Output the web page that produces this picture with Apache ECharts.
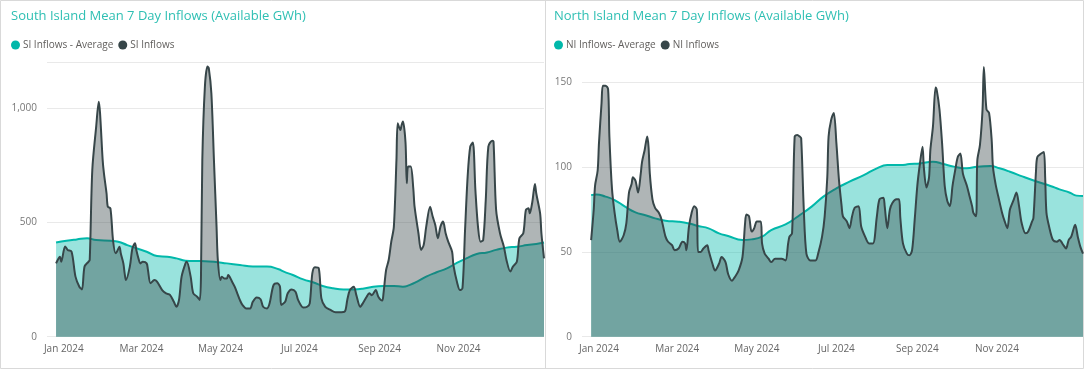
<!DOCTYPE html>
<html><head><meta charset="utf-8">
<script src="https://cdn.jsdelivr.net/npm/echarts@6/dist/echarts.min.js"></script>
<style>html,body{margin:0;padding:0;background:#fff}#c{width:1085px;height:370px}</style>
</head><body><div id="c"></div><script>
// x values are days since 1 Jan 2024
const tickDays = [0, 60, 121, 182, 244, 305];
const tickLabels = ['Jan 2024', 'Mar 2024', 'May 2024', 'Jul 2024', 'Sep 2024', 'Nov 2024'];

const siInflowDays = [-6,-4,-3,-2,1,3,6,9,12,14,16,19,20,22,25,27,28,30,31,33,34,36,38,40,41,43,44,46,47,48,51,53,55,56,58,59,61,64,65,67,70,72,76,79,82,85,87,89,91,94,95,98,100,103,105,106,107,109,111,112,114,116,118,119,121,122,124,126,127,130,132,134,136,138,141,144,146,149,152,154,157,159,162,165,167,168,171,173,176,179,181,185,188,190,192,194,197,199,202,206,210,213,217,219,221,224,226,229,231,234,236,238,241,243,246,247,249,251,253,255,257,258,260,261,262,264,265,266,268,270,271,274,276,278,280,283,285,287,289,291,293,295,297,300,301,304,306,308,310,312,314,316,318,320,322,324,326,328,331,332,334,337,340,342,345,347,350,352,355,357,359,360,362,364,365,368,369,371];
const siInflows = [321,343,350,328,395,380,372,263,219,207,307,328,336,730,920,1029,978,774,715,628,569,562,423,365,372,394,365,321,277,248,307,387,409,380,336,321,328,321,292,234,248,241,204,190,183,153,131,161,263,321,328,263,190,175,161,277,774,1095,1183,1176,1066,771,482,336,248,263,255,255,270,241,219,190,161,139,124,124,153,172,164,131,124,146,226,234,219,139,153,190,207,197,161,128,131,146,277,304,299,168,131,117,107,107,110,161,204,219,182,131,146,175,190,182,204,175,158,190,292,336,416,482,774,934,905,927,942,850,672,745,745,650,569,453,380,401,482,569,526,489,431,482,504,453,416,372,314,234,204,212,467,701,832,850,642,482,416,423,599,832,858,854,555,453,394,336,285,307,328,431,453,555,562,540,591,669,628,540,453,343];
const siAvgDays = [-6,2,10,18,25,36,42,49,56,64,72,80,87,94,105,116,126,136,146,157,166,170,177,185,193,200,208,216,224,231,239,247,255,262,267,273,280,288,296,303,311,319,327,334,342,350,358,365,371];
const siAvg = [412,420,426,431,423,420,416,401,387,372,353,350,343,333,331,328,321,314,307,307,295,285,270,251,237,222,212,207,207,210,219,222,222,219,226,241,263,282,299,321,343,362,369,380,390,394,401,406,412];

const niInflowDays = [-6,-4,-3,-1,0,2,3,5,7,8,10,12,14,16,19,21,23,25,26,28,30,32,33,35,37,38,39,41,43,46,48,51,53,56,58,61,64,66,67,69,71,73,75,76,78,80,83,84,87,89,92,94,97,99,102,104,107,110,112,113,115,117,119,121,124,125,127,130,132,135,138,140,143,145,146,148,150,152,154,155,157,159,162,166,168,171,173,175,176,178,180,182,184,186,187,190,192,194,196,199,201,204,207,210,213,215,218,219,221,223,225,228,230,231,233,236,238,240,242,244,246,248,249,251,253,254,256,258,259,261,263,265,267,269,271,273,275,277,279,282,284,286,287,289,290,292,294,295,297,299,301,302,304,306,309,311,313,315,318,320,322,324,327,329,332,333,335,336,339,341,342,343,345,348,351,353,356,358,360,362,365,367,369,371];
const niInflows = [57,75,89,98,114,138,148,148,146,118,87,73,63,56,60,67,85,90,94,92,85,96,103,110,118,112,96,81,76,73,69,59,56,54,51,52,56,55,51,65,73,77,75,50,50,52,54,51,43,39,43,47,44,37,33,35,39,47,67,72,71,62,64,68,68,55,49,46,44,46,46,46,45,55,59,61,118,119,118,117,75,49,45,45,49,59,71,94,118,128,132,114,92,77,71,68,64,71,76,77,65,59,55,55,71,81,82,77,64,75,79,81,81,70,55,49,48,51,69,89,102,112,100,88,94,110,124,147,145,134,114,89,80,77,89,98,106,108,96,89,83,77,73,71,104,113,134,159,134,132,116,100,90,83,73,68,64,75,81,85,77,67,61,62,68,70,98,106,108,109,94,73,65,57,56,57,54,52,57,59,66,59,53,49];
const niAvgDays = [-6,-2,5,12,20,28,35,43,51,61,69,76,84,92,99,110,117,125,132,143,153,163,172,182,192,203,213,221,231,238,246,256,264,272,282,290,300,307,315,325,336,346,353,361,366,371];
const niAvg = [83.5,83.9,82.6,80.6,76.7,73.3,71.8,69.8,68.4,67.8,66.8,65.3,63.9,60.9,59.4,57,57.4,59,62.9,66.2,71.2,76.7,82.6,87.5,91.4,95.3,99.3,101.2,101.2,101.8,102.2,103.2,101.8,100.3,99.3,100.3,100.6,99.3,97.3,94.4,91.4,88.9,86.9,84.9,83.2,83];

const zip = (xs, ys) => xs.map((x, i) => [x, ys[i]]);
const FONT = 'Open Sans';
const TEAL = '#01B8AA', DARK = '#374649';
const labelMap = {};
tickDays.forEach((d, i) => labelMap[d] = tickLabels[i]);

function xAxis(gi) {
  return {
    type: 'value', gridIndex: gi, min: -13, max: 371,
    axisLine: { show: false }, axisTick: { show: false }, splitLine: { show: false },
    axisLabel: {
      customValues: tickDays, formatter: v => labelMap[v] || '',
      color: '#666666', fontSize: 10, fontFamily: FONT, margin: 7
    }
  };
}
function yAxis(gi, max, interval, fmt) {
  return {
    type: 'value', gridIndex: gi, min: 0, max: max, interval: interval,
    axisLine: { show: false }, axisTick: { show: false },
    axisLabel: { color: '#777777', fontSize: 10, fontFamily: FONT, margin: 10, showMaxLabel: false, formatter: fmt },
    splitLine: { lineStyle: { color: ['#e9e9e9', '#e9e9e9', '#e9e9e9', '#e9e9e9', 'rgba(0,0,0,0)'], width: 1 } }
  };
}
function avgSeries(name, gi, data) {
  return {
    name, type: 'line', xAxisIndex: gi, yAxisIndex: gi, data, showSymbol: false, smooth: 0.5,
    color: TEAL, lineStyle: { color: TEAL, width: 2 },
    areaStyle: { color: TEAL, opacity: 0.4 }, z: 2
  };
}
function inflowSeries(name, gi, data) {
  return {
    name, type: 'line', xAxisIndex: gi, yAxisIndex: gi, data, showSymbol: false, smooth: 0.3,
    color: DARK, lineStyle: { color: DARK, width: 2 },
    areaStyle: { color: DARK, opacity: 0.4 }, z: 3
  };
}

const chart = echarts.init(document.getElementById('c'), null, { renderer: 'canvas' });
chart.setOption({
  animation: false,
  textStyle: { fontFamily: FONT },
  title: [
    { text: 'South Island Mean 7 Day Inflows (Available GWh)', left: 11, top: 10, padding: 0,
      textStyle: { color: '#2EBFB3', fontSize: 13, fontWeight: 'normal', fontFamily: FONT } },
    { text: 'North Island Mean 7 Day Inflows (Available GWh)', left: 554, top: 10, padding: 0,
      textStyle: { color: '#2EBFB3', fontSize: 13, fontWeight: 'normal', fontFamily: FONT } }
  ],
  legend: [
    { data: ['SI Inflows - Average', 'SI Inflows'], left: 11, top: 40, padding: 0, icon: 'circle',
      itemWidth: 9, itemHeight: 9, itemGap: 5, textStyle: { color: '#605E5C', fontSize: 10, fontFamily: FONT, padding: [0, 0, 0, -2] } },
    { data: ['NI Inflows- Average', 'NI Inflows'], left: 554, top: 40, padding: 0, icon: 'circle',
      itemWidth: 9, itemHeight: 9, itemGap: 5, textStyle: { color: '#605E5C', fontSize: 10, fontFamily: FONT, padding: [0, 0, 0, -2] } }
  ],
  grid: [
    { left: 47, top: 62.6, width: 497, height: 274.1 },
    { left: 582, top: 65.4, width: 501, height: 271.3 }
  ],
  xAxis: [xAxis(0), xAxis(1)],
  yAxis: [
    yAxis(0, 1200, 500, v => v.toLocaleString('en-US')),
    yAxis(1, 160, 50, v => String(v))
  ],
  series: [
    avgSeries('SI Inflows - Average', 0, zip(siAvgDays, siAvg)),
    inflowSeries('SI Inflows', 0, zip(siInflowDays, siInflows)),
    avgSeries('NI Inflows- Average', 1, zip(niAvgDays, niAvg)),
    inflowSeries('NI Inflows', 1, zip(niInflowDays, niInflows))
  ],
  graphic: [
    { type: 'rect', shape: { x: 0.5, y: 0.5, width: 1083, height: 368 }, style: { fill: 'none', stroke: '#d9d9d9', lineWidth: 1 }, silent: true },
    { type: 'line', shape: { x1: 545.5, y1: 0, x2: 545.5, y2: 369 }, style: { stroke: '#d9d9d9', lineWidth: 1 }, silent: true }
  ]
});
</script></body></html>
